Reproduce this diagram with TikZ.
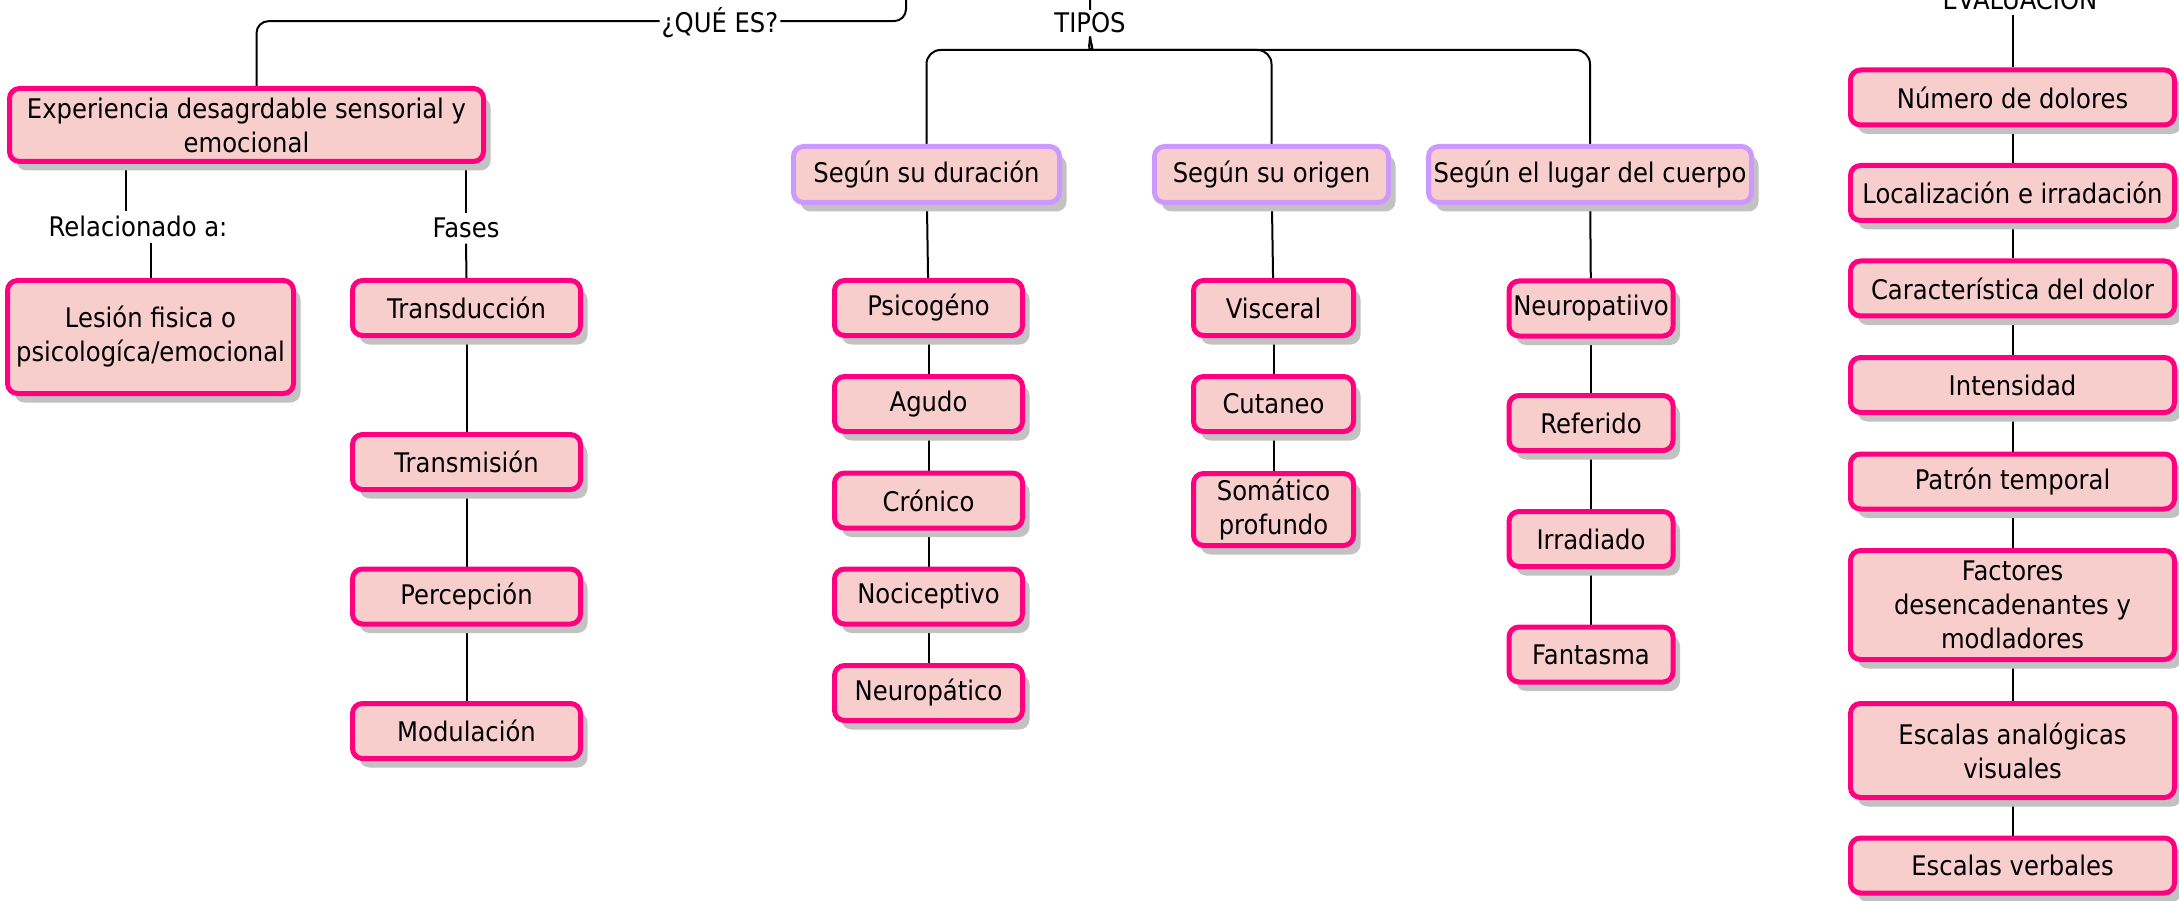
\documentclass[tikz,border=0pt]{standalone}
\usepackage{fontspec}
\setmainfont{DejaVu Sans}[FakeStretch=0.9]
\usetikzlibrary{shadows,backgrounds}
\definecolor{pinkc}{HTML}{FF0080}
\definecolor{purc}{HTML}{CC99FF}
\definecolor{fillc}{HTML}{F8CECC}
\definecolor{shadc}{HTML}{C2C2C2}
\begin{document}
\begin{tikzpicture}[x=1pt,y=-1pt,
  every node/.style={font=\fontsize{27}{34}\selectfont},
  box/.style={draw=pinkc, line width=5pt, fill=fillc, rounded corners=10pt, align=center, inner sep=0pt, minimum height=55pt,
    drop shadow={shadow xshift=7pt, shadow yshift=-9pt, fill=shadc, opacity=1}},
  pbox/.style={box, draw=purc},
  lab/.style={inner sep=5pt, anchor=base},
  conn/.style={draw=black, line width=2pt}]
\useasboundingbox (0,0) rectangle (2179,901);

% left branch
\node[box, minimum width=474pt, minimum height=73pt] (exp) at (246.5,125) {Experiencia desagrdable sensorial y\\emocional};
\node[box, minimum width=286pt, minimum height=113pt] (les) at (150.5,337) {Lesión fisica o\\psicologíca/emocional};
\node[box, minimum width=228pt] (trd) at (466.5,308) {Transducción};
\node[box, minimum width=228pt] (trm) at (466.5,462) {Transmisión};
\node[box, minimum width=228pt] (per) at (466.5,596.5) {Percepción};
\node[box, minimum width=228pt] (mdl) at (466.5,731) {Modulación};

% tipos
\node[pbox, minimum width=266pt, minimum height=56pt] (dur) at (926.5,174.5) {Según su duración};
\node[pbox, minimum width=234pt, minimum height=56pt] (ori) at (1271.5,174.5) {Según su origen};
\node[pbox, minimum width=323pt, minimum height=56pt] (lug) at (1590,174.5) {Según el lugar del cuerpo};

\node[box, minimum width=188pt] (psi) at (928.5,308) {Psicogéno};
\node[box, minimum width=188pt] (agu) at (928.5,404) {Agudo};
\node[box, minimum width=188pt] (cro) at (928.5,500.5) {Crónico};
\node[box, minimum width=188pt] (noc) at (928.5,596.5) {Nociceptivo};
\node[box, minimum width=188pt] (neu) at (928.5,693) {Neuropático};

\node[box, minimum width=160pt] (vis) at (1273.5,308) {Visceral};
\node[box, minimum width=160pt] (cut) at (1273.5,404) {Cutaneo};
\node[box, minimum width=160pt, minimum height=72pt] (som) at (1273.5,509.5) {Somático\\profundo};

\node[box, minimum width=164pt] (npt) at (1591,308.5) {Neuropatiivo};
\node[box, minimum width=164pt] (rfd) at (1591,423) {Referido};
\node[box, minimum width=164pt] (irr) at (1591,539) {Irradiado};
\node[box, minimum width=164pt] (fan) at (1591,654.5) {Fantasma};

% evaluacion
\node[box, minimum width=324pt] (num) at (2012.5,97.5) {Número de dolores};
\node[box, minimum width=324pt] (loc) at (2012.5,193) {Localización e irradación};
\node[box, minimum width=324pt] (car) at (2012.5,288.5) {Característica del dolor};
\node[box, minimum width=324pt] (int) at (2012.5,385) {Intensidad};
\node[box, minimum width=324pt] (pat) at (2012.5,481.5) {Patrón temporal};
\node[box, minimum width=324pt, minimum height=109pt] (fac) at (2012.5,605) {Factores\\desencadenantes y\\modladores};
\node[box, minimum width=324pt, minimum height=94pt] (esa) at (2012.5,750.5) {Escalas analógicas\\visuales};
\node[box, minimum width=324pt] (esv) at (2012.5,865.5) {Escalas verbales};

% labels
\node[lab] (rel) at (138,237) {Relacionado a:};
\node[lab] (fas) at (466,238) {Fases};
\node[lab, inner sep=2pt] (que) at (720,33) {¿QUÉ ES?};
\node[lab, inner sep=3pt] (tip) at (1090,33) {TIPOS};
\node[lab, inner sep=4pt] (evt) at (2020,10) {EVALUACIÓN};

\coordinate (rq) at (906,-40);
\coordinate (rt) at (1091,-40);
\coordinate (brl) at (1078,50);
\coordinate (brr) at (1104,50);

\begin{pgfonlayer}{background}
\draw[conn, rounded corners=12pt] ([yshift=2pt]que.east) -| (rq);
\draw[conn, rounded corners=12pt] ([yshift=2pt]que.west) -| ([xshift=10pt]exp.north);
\draw[conn] (tip.north) -- (rt);
\draw[conn, rounded corners=14pt] (dur.north) |- (brl) .. controls +(9,0) and +(0,7) .. (tip.south);
\draw[conn, rounded corners=14pt] (ori.north) |- (brr) .. controls +(-9,0) and +(0,7) .. (tip.south);
\draw[conn, rounded corners=14pt] (lug.north) |- (brr) .. controls +(-9,0) and +(0,7) .. (tip.south);

\draw[conn] ([xshift=-12pt]rel.north) -- ([xshift=-12pt]rel.north |- exp.south);
\draw[conn] (rel.south -| les.north) -- (les.north);
\draw[conn] (fas.north) -- (fas.north |- exp.south);
\draw[conn] (fas.south) -- (trd.north);
\draw[conn] (trd) -- (trm);
\draw[conn] (trm) -- (per);
\draw[conn] (per) -- (mdl);

\draw[conn] (dur) -- (psi);
\draw[conn] (psi) -- (agu);
\draw[conn] (agu) -- (cro);
\draw[conn] (cro) -- (noc);
\draw[conn] (noc) -- (neu);

\draw[conn] (ori) -- (vis);
\draw[conn] (vis) -- (cut);
\draw[conn] (cut) -- (som);

\draw[conn] (lug) -- (npt);
\draw[conn] (npt) -- (rfd);
\draw[conn] (rfd) -- (irr);
\draw[conn] (irr) -- (fan);

\draw[conn] (num.north) -- (num.north |- evt.south);
\draw[conn] (num) -- (loc);
\draw[conn] (loc) -- (car);
\draw[conn] (car) -- (int);
\draw[conn] (int) -- (pat);
\draw[conn] (pat) -- (fac);
\draw[conn] (fac) -- (esa);
\draw[conn] (esa) -- (esv);
\end{pgfonlayer}
\end{tikzpicture}
\end{document}
